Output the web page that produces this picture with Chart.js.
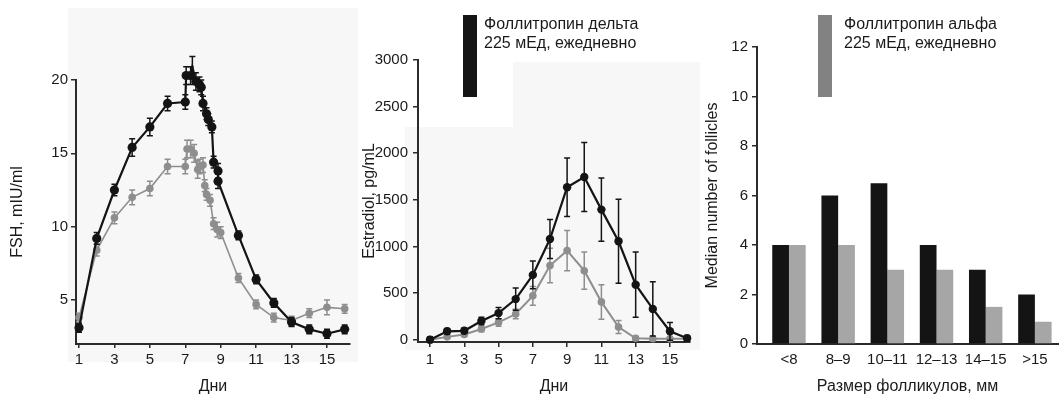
<!DOCTYPE html>
<html lang="ru">
<head>
<meta charset="UTF-8">
<title>FSH, estradiol, follicles</title>
<script src="https://cdn.jsdelivr.net/npm/chart.js@4"></script>
<style>
  body { margin: 0; background: #fff; }
  #wrap { position: relative; width: 1061px; height: 404px; overflow: hidden; font-family: "Liberation Sans", Arial, sans-serif; color: #1a1a1a; }
  #wrap canvas { position: absolute; top: 0; }
  .key { position: absolute; top: 14px; font-size: 16px; line-height: 19px; white-space: nowrap; }
  .swatch { position: absolute; top: 15px; width: 14px; height: 82px; }
</style>
</head>
<body>
<div id="wrap">
  <canvas id="fsh" width="360" height="404" style="left:0"></canvas>
  <canvas id="e2" width="360" height="404" style="left:350px"></canvas>
  <canvas id="foll" width="361" height="404" style="left:700px"></canvas>
</div>
<script>
// --- data ---
const legendNames = ["Фоллитропин дельта", "Фоллитропин альфа"];
const doseText = "225 мЕд, ежедневно";

// FSH (left)
const fshDeltaDays = [1, 2, 3, 4, 5, 6, 7, 7.05, 7.3, 7.4, 7.6, 7.8, 7.9, 8.0, 8.2, 8.3, 8.5, 8.6, 8.85, 8.85, 10, 11, 12, 13, 14, 15, 16];
const fshDeltaVals = [3.1, 9.2, 12.5, 15.4, 16.8, 18.4, 18.5, 20.3, 20.3, 20.9, 19.9, 19.7, 19.5, 18.4, 17.7, 17.3, 16.8, 14.4, 13.8, 13.1, 9.4, 6.4, 4.8, 3.5, 3.0, 2.7, 3.0];
const fshDeltaErr  = [0.3, 0.4, 0.4, 0.6, 0.6, 0.5, 0.5, 0.6, 0.6, 0.7, 0.6, 0.5, 0.5, 0.5, 0.4, 0.4, 0.4, 0.4, 0.5, 0.5, 0.3, 0.3, 0.3, 0.3, 0.3, 0.3, 0.3];
const fshAlfaDays  = [1, 2, 3, 4, 5, 6, 7, 7.1, 7.3, 7.5, 7.7, 7.8, 8.0, 8.1, 8.2, 8.4, 8.6, 8.8, 9.0, 10, 11, 12, 13, 14, 15, 16];
const fshAlfaVals  = [3.8, 8.4, 10.6, 12.0, 12.6, 14.1, 14.1, 15.3, 15.3, 15.0, 13.9, 14.1, 14.2, 12.8, 12.2, 11.8, 10.2, 9.8, 9.6, 6.5, 4.7, 3.8, 3.6, 4.1, 4.5, 4.4];
const fshAlfaErr   = [0.3, 0.4, 0.4, 0.5, 0.5, 0.5, 0.5, 0.6, 0.6, 0.6, 0.6, 0.5, 0.5, 0.4, 0.4, 0.4, 0.4, 0.5, 0.4, 0.3, 0.3, 0.3, 0.3, 0.3, 0.5, 0.3];

// Estradiol (middle)
const e2Days     = [1, 2, 3, 4, 5, 6, 7, 8, 9, 10, 11, 12, 13, 14, 15, 16];
const e2Delta    = [0, 90, 95, 200, 285, 435, 695, 1080, 1635, 1745, 1395, 1055, 590, 330, 90, 15];
const e2DeltaErr = [30, 30, 30, 40, 60, 120, 150, 210, 315, 370, 340, 450, 350, 290, 95, 30];
const e2Alfa     = [0, 30, 55, 115, 185, 275, 470, 795, 955, 740, 405, 135, 15, 10, 10, 10];
const e2AlfaErr  = [20, 20, 20, 30, 40, 50, 100, 185, 215, 200, 185, 70, 20, 20, 20, 20];

// Follicles by size (right)
const sizeLabels = ["<8", "8–9", "10–11", "12–13", "14–15", ">15"];
const follDelta  = [4, 6, 6.5, 4, 3, 2];
const follAlfa   = [4, 4, 3, 3, 1.5, 0.9];

// tick values
const dayTicks  = [1, 3, 5, 7, 9, 11, 13, 15];
const fshTicks  = [5, 10, 15, 20];
const e2Ticks   = [0, 500, 1000, 1500, 2000, 2500, 3000];
const follTicks = [0, 2, 4, 6, 8, 10, 12];

const BLACK = "#141414";
const GREY = "#8e8e8e";
const AXIS = "#2b2b2b";

// legends as html text
const wrap = document.getElementById("wrap");
[[463, 484, BLACK], [818, 844, "#828282"]].forEach(([sx, tx, col], i) => {
  const sw = document.createElement("div");
  sw.className = "swatch";
  sw.style.left = sx + "px";
  sw.style.background = col;
  wrap.appendChild(sw);
  const t = document.createElement("div");
  t.className = "key";
  t.style.left = tx + "px";
  t.innerHTML = legendNames[i] + "<br>" + doseText;
  wrap.appendChild(t);
});

Chart.defaults.font.family = '"Liberation Sans", Arial, sans-serif';
Chart.defaults.color = "#1a1a1a";
Chart.defaults.animation = false;

const pairs = (xs, ys) => xs.map((x, i) => ({ x: x, y: ys[i] }));
const fixTicks = vals => scale => { scale.ticks = vals.map(v => ({ value: v })); };

// error bars drawn through the y scale
const errorBars = {
  id: "errorBars",
  afterDatasetDraw(chart, args) {
    const ds = chart.data.datasets[args.index];
    if (!ds.errors) return;
    const y = chart.scales.y;
    const ctx = chart.ctx;
    ctx.save();
    ctx.strokeStyle = ds.borderColor;
    ctx.lineWidth = ds.errWidth || 1.5;
    args.meta.data.forEach((pt, i) => {
      const v = ds.data[i].y, e = ds.errors[i];
      const top = y.getPixelForValue(v + e);
      const bot = y.getPixelForValue(v - e);
      ctx.beginPath();
      ctx.moveTo(pt.x, top); ctx.lineTo(pt.x, bot);
      ctx.moveTo(pt.x - 3, top); ctx.lineTo(pt.x + 3, top);
      ctx.moveTo(pt.x - 3, bot); ctx.lineTo(pt.x + 3, bot);
      ctx.stroke();
    });
    ctx.restore();
  }
};

// faint paper tone behind the scanned panels
const paperTone = {
  id: "paperTone",
  beforeDraw(chart, args, opts) {
    if (!opts.rects) return;
    const ctx = chart.ctx;
    ctx.save();
    ctx.fillStyle = "#f7f7f7";
    opts.rects.forEach(r => ctx.fillRect(r[0], r[1], r[2], r[3]));
    ctx.restore();
  }
};

function xAxis(min, max, title, tl, pad, titlePadBottom, height) {
  return {
    type: "linear", min: min, max: max,
    afterBuildTicks: fixTicks(dayTicks),
    afterFit: s => { s.height = height; },
    border: { display: true, color: AXIS, width: 2 },
    grid: { drawOnChartArea: false, drawTicks: true, tickLength: tl, color: AXIS, lineWidth: 1.5 },
    ticks: { font: { size: 15 }, padding: pad, callback: v => String(v) },
    title: { display: true, text: title, font: { size: 16 }, padding: { top: 0, bottom: titlePadBottom } }
  };
}

function yAxis(min, max, ticks, title, width, pad, titlePadTop) {
  return {
    min: min, max: max,
    afterBuildTicks: fixTicks(ticks),
    afterFit: s => { s.width = width; },
    border: { display: true, color: AXIS, width: 2 },
    grid: { drawOnChartArea: false, drawTicks: true, tickLength: 5, color: AXIS, lineWidth: 1.5 },
    ticks: { font: { size: 15 }, padding: pad, callback: v => String(v) },
    title: { display: true, text: title, font: { size: 16 }, padding: { top: titlePadTop, bottom: 0 } }
  };
}

function lineSet(label, data, errors, color, width, radius) {
  return {
    label: label, data: data, errors: errors,
    borderColor: color, backgroundColor: color,
    borderWidth: width, pointRadius: radius, pointBorderWidth: 0,
    tension: 0, clip: false, errWidth: 1.5
  };
}

// left: FSH
new Chart(document.getElementById("fsh"), {
  type: "line",
  data: {
    datasets: [
      lineSet(legendNames[0], pairs(fshDeltaDays, fshDeltaVals), fshDeltaErr, BLACK, 2.2, 4.6),
      lineSet(legendNames[1], pairs(fshAlfaDays, fshAlfaVals), fshAlfaErr, GREY, 1.6, 3.8)
    ]
  },
  options: {
    responsive: false,
    layout: { padding: { top: 80, right: 10, left: 0, bottom: 0 } },
    plugins: { legend: { display: false }, tooltip: { enabled: false }, paperTone: { rects: [[68, 8, 290, 354]] } },
    scales: {
      x: xAxis(0.83, 16.3, "Дни", 4, 3, 8, 60),
      y: yAxis(2.0, 20, fshTicks, "FSH, mIU/ml", 76, 3, 8)
    }
  },
  plugins: [paperTone, errorBars]
});

// middle: estradiol
new Chart(document.getElementById("e2"), {
  type: "line",
  data: {
    datasets: [
      lineSet(legendNames[0], pairs(e2Days, e2Delta), e2DeltaErr, BLACK, 2.2, 4.2),
      lineSet(legendNames[1], pairs(e2Days, e2Alfa), e2AlfaErr, GREY, 2, 3.8)
    ]
  },
  options: {
    responsive: false,
    layout: { padding: { top: 60, right: 20, left: 0, bottom: 0 } },
    plugins: { legend: { display: false }, tooltip: { enabled: false }, paperTone: { rects: [[163, 62, 187, 288], [55, 127, 108, 223]] } },
    scales: {
      x: xAxis(0.3, 16.17, "Дни", 5, 4, 8, 62),
      y: yAxis(-25, 3000, e2Ticks, "Estradiol, pg/mL", 68, 5, 10)
    }
  },
  plugins: [paperTone, errorBars]
});

// right: follicles
new Chart(document.getElementById("foll"), {
  type: "bar",
  data: {
    datasets: [
      { label: legendNames[0], data: pairs(sizeLabels.map((_, i) => i), follDelta), backgroundColor: BLACK,
        categoryPercentage: 0.68, barPercentage: 1 },
      { label: legendNames[1], data: pairs(sizeLabels.map((_, i) => i), follAlfa), backgroundColor: "#a6a6a6",
        categoryPercentage: 0.68, barPercentage: 1 }
    ]
  },
  options: {
    responsive: false,
    layout: { padding: { top: 47, right: 3, left: 0, bottom: 0 } },
    plugins: { legend: { display: false }, tooltip: { enabled: false } },
    scales: {
      x: {
        type: "linear", min: -0.65, max: 5.47, offset: false,
        afterBuildTicks: fixTicks(sizeLabels.map((_, i) => i)),
        afterFit: s => { s.height = 60; },
        border: { display: true, color: AXIS, width: 2 },
        grid: { offset: false, drawOnChartArea: false, drawTicks: false, color: AXIS },
        ticks: { font: { size: 15 }, padding: 7, callback: v => sizeLabels[v] },
        title: { display: true, text: "Размер фолликулов, мм", font: { size: 16 }, padding: { top: 0, bottom: 8 } }
      },
      y: yAxis(0, 12, follTicks, "Median number of follicles", 57, 4, 3)
    }
  }
});
</script>
</body>
</html>
